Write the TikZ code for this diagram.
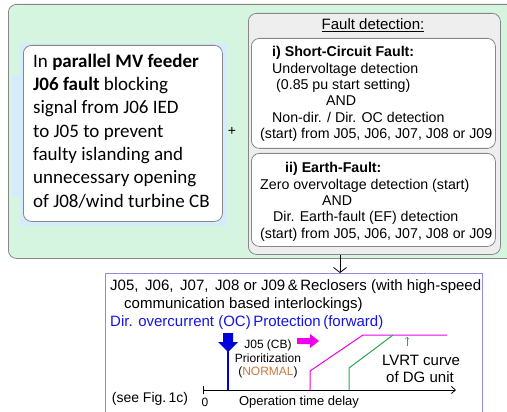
\documentclass[tikz,border=0pt]{standalone}
\usepackage{fontspec}
\setmainfont{Liberation Sans}
\newfontfamily\calibrifont{Carlito}
\usetikzlibrary{arrows.meta}

\definecolor{mint}{RGB}{214,245,224}
\definecolor{panelgray}{RGB}{135,135,135}
\definecolor{panelfill}{RGB}{238,238,238}
\definecolor{paleblue}{RGB}{214,236,248}
\definecolor{lavender}{RGB}{140,140,228}
\definecolor{octext}{RGB}{20,20,230}
\definecolor{ocblue}{RGB}{0,0,220}
\definecolor{lvrtpink}{RGB}{238,0,238}
\definecolor{dggreen}{RGB}{40,170,80}
\definecolor{normalorange}{RGB}{200,120,60}

\begin{document}
\begin{tikzpicture}[x=1pt,y=-1pt,
  panel/.style={draw=panelgray,line width=0.8pt,rounded corners=8pt,anchor=north west,inner sep=0pt},
  txt/.style={anchor=base west,inner sep=0pt,font=\fontsize{14.2}{16.3}\selectfont},
  prottxt/.style={anchor=base west,inner sep=0pt,font=\fontsize{15}{18}\selectfont},
  small/.style={inner sep=0pt,font=\fontsize{12}{14}\selectfont},
  conn/.style={line width=0.8pt,-{Straight Barb[length=5pt,width=13pt]}}]
   \clip (0,0) rectangle (507,412);

   \node[panel,fill=mint,minimum width=530pt,minimum height=254pt] (outer) at (8,4) {};
   \fill[paleblue] (20,43) rectangle (227,226);
   \fill[paleblue] (12,75) rectangle (23,197);

   \node[panel,fill=white,minimum width=199pt,minimum height=176pt] (block) at (23,45) {};
   \node[anchor=west,inner sep=0pt,align=left,font=\calibrifont\fontsize{19}{23.3}\selectfont]
         (blocktext) at (33,131) {In \textbf{parallel MV feeder}\\
         \textbf{J06 fault} blocking\\
         signal from J06 IED\\
         to J05 to prevent\\
         faulty islanding and\\
         unnecessary opening\\
         of J08/wind turbine CB};
   \node[inner sep=0pt,font=\fontsize{14}{16}\selectfont] (plus) at (232,131) {+};

   \node[panel,fill=panelfill,minimum width=252pt,minimum height=241pt] (detect) at (248,13) {};
   \node[inner sep=0pt,font=\fontsize{15}{18}\selectfont] (dhead) at (373,25) {\underline{Fault detection:}};

   \node[panel,fill=white,minimum width=244pt,minimum height=110pt] (scbox) at (251,38) {};
   \node[txt] (sc1) at (272,57) {\textbf{i) Short-Circuit Fault:}};
   \node[txt] (sc2) at (272,73.3) {Undervoltage detection};
   \node[txt] (sc3) at (276,89.6) {(0.85 pu start setting)};
   \node[txt] (sc4) at (326,105.9) {AND};
   \node[txt] (sc5) at (272,122.2) {Non-dir. / Dir. OC detection};
   \node[txt] (sc6) at (260,138.5) {(start) from J05, J06, J07, J08 or J09};

   \node[panel,fill=white,minimum width=244pt,minimum height=93pt] (efbox) at (251,153) {};
   \node[txt] (ef1) at (285,173) {\textbf{ii) Earth-Fault:}};
   \node[txt] (ef2) at (260,189.3) {Zero overvoltage detection (start)};
   \node[txt] (ef3) at (322,205.6) {AND};
   \node[txt] (ef4) at (273,221.9) {Dir. Earth-fault (EF) detection};
   \node[txt] (ef5) at (260,238.2) {(start) from J05, J06, J07, J08 or J09};

   \node[draw=lavender,line width=0.8pt,fill=white,anchor=north west,minimum width=377pt,minimum height=160pt] (prot) at (105,273) {};
   \draw[conn] (340,0 |- detect.south) -- (340,0 |- prot.north);

   \node[prottxt] (pr1) at (110,290) {J05,\, J06,\, J07,\, J08 or J09\,\&\,Reclosers (with high-speed};
   \node[prottxt] (pr2) at (124,308) {communication based interlockings)};
   \node[prottxt,text=octext] (pr3) at (110,326) {Dir. overcurrent (OC)\,Protection\,(forward)};

   \coordinate (t0) at (203,390);
   \coordinate (tend) at (456,390);
   \draw[line width=0.8pt,-{Straight Barb[length=4pt,width=7pt]}] (t0) -- (tend);
   \draw[line width=0.8pt] (203,386) -- (203,394);
   \node[small] (zero) at (205,402) {0};
   \node[inner sep=0pt,font=\fontsize{13}{15}\selectfont] (tlabel) at (299,402) {Operation time delay};
   \node[inner sep=0pt,font=\fontsize{14}{16}\selectfont] (seefig) at (150,399) {(see Fig.\,1c)};

   \draw[ocblue,line width=1.2pt] (228,350) -- (228,390);
   \fill[ocblue] (223,333) -- (233,333) -- (233,342) -- (238,342) -- (228,352) -- (218,342) -- (223,342) -- cycle;
   \node[small] (prio1) at (268,345) {J05 (CB)};
   \node[small] (prio2) at (268,358) {Prioritization};
   \node[small] (prio3) at (268,372) {(\textcolor{normalorange}{NORMAL})};
   \fill[lvrtpink] (297,338) -- (310,338) -- (310,334) -- (319,341) -- (310,348) -- (310,344) -- (297,344) -- cycle;

   \draw[lvrtpink,line width=1pt] (310,390) -- (310,371) -- (363,335) -- (447,335);
   \draw[dggreen,line width=1pt] (349,390) -- (349,368) -- (393,335);
   \draw[dggreen,line width=0.4pt,-{Straight Barb[length=2pt,width=4pt]}] (407,346) -- (407,337);
   \node[inner sep=0pt,font=\fontsize{15}{18}\selectfont] (lvrt1) at (421,360) {LVRT curve};
   \node[inner sep=0pt,font=\fontsize{15}{18}\selectfont] (lvrt2) at (420,377) {of DG unit};
\end{tikzpicture}
\end{document}
